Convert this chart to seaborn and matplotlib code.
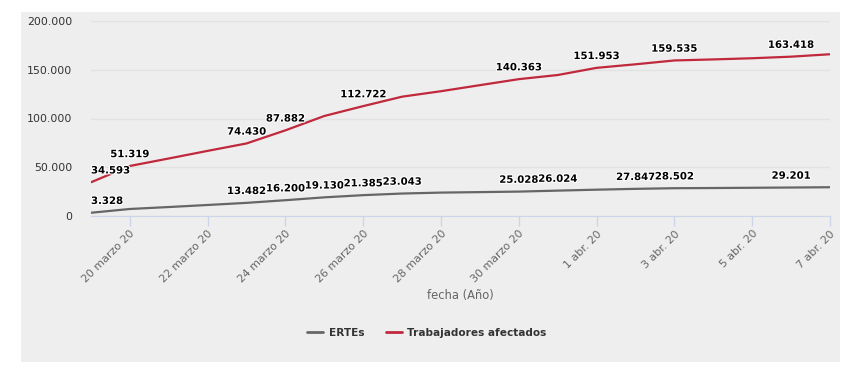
import pandas as pd
import numpy as np
import seaborn as sns
import matplotlib.pyplot as plt
import matplotlib.patheffects as pe
from matplotlib.patches import Rectangle
from matplotlib.lines import Line2D

fechas = pd.date_range("2020-03-19", "2020-04-07", freq="D")

ertes = [3328, 7200, 9200, 11300, 13482, 16200, 19130, 21385, 23043, 24000,
         24500, 25028, 26024, 27000, 27847, 28502, 28700, 28950, 29201, 29500]
trabajadores = [34593, 51319, 59000, 66800, 74430, 87882, 102600, 112722, 122400, 128000,
                134200, 140363, 144600, 151953, 155600, 159535, 160600, 161800, 163418, 165900]

# puntos con etiqueta (indices)
etiq_ertes = [0, 4, 5, 6, 7, 8, 11, 12, 14, 15, 18]
etiq_trab = [0, 1, 4, 5, 7, 11, 13, 15, 18]

xticks_fechas = pd.date_range("2020-03-20", "2020-04-07", freq="2D")
xtick_labels = ["20 marzo 20", "22 marzo 20", "24 marzo 20", "26 marzo 20", "28 marzo 20",
                "30 marzo 20", "1 abr. 20", "3 abr. 20", "5 abr. 20", "7 abr. 20"]
yticks = [0, 50000, 100000, 150000, 200000]
ytick_labels = ["0", "50.000", "100.000", "150.000", "200.000"]

series = ["ERTEs", "Trabajadores afectados"]
colores = {"ERTEs": "#666666", "Trabajadores afectados": "#c0283c"}

df = pd.DataFrame({
    "fecha": list(fechas) * 2,
    "valor": ertes + trabajadores,
    "serie": ["ERTEs"] * len(fechas) + ["Trabajadores afectados"] * len(fechas),
})

sns.set_style("white")
plt.rcParams["font.family"] = ["DejaVu Sans"]

fig = plt.figure(figsize=(8.54, 3.74), dpi=100)
fig.patch.set_facecolor("white")
fig.patches.append(Rectangle((21 / 854, 12 / 374), 819 / 854, 350 / 374,
                             transform=fig.transFigure, facecolor="#eeeeee",
                             edgecolor="none", zorder=-10))

ax = fig.add_axes([91 / 854, 158 / 374, 739 / 854, 195 / 374])
ax.set_facecolor("#eeeeee")

sns.lineplot(data=df, x="fecha", y="valor", hue="serie", palette=colores,
             linewidth=1.6, ax=ax, legend=False)

ax.set_xlim(fechas[0], fechas[-1])
ax.set_ylim(0, 200000)
ax.set_yticks(yticks)
ax.set_yticklabels(ytick_labels)
ax.set_xticks(xticks_fechas)
ax.set_xticklabels(xtick_labels, rotation=45, ha="right", rotation_mode="anchor")

ax.grid(axis="y", color="#e2e2e2", linewidth=1)
ax.grid(axis="x", visible=False)
for s in ["top", "right", "left"]:
    ax.spines[s].set_visible(False)
ax.spines["bottom"].set_color("#ccd6eb")
ax.tick_params(axis="x", bottom=True, colors="#ccd6eb", length=7, width=1, direction="out",
               labelcolor="#666666", labelsize=7.9, pad=2)
ax.tick_params(axis="y", left=False, labelcolor="#333333", labelsize=7.9, pad=10)

ax.set_xlabel("fecha (Año)", color="#666666", fontsize=8.3, labelpad=3)
ax.set_ylabel("")

halo = [pe.withStroke(linewidth=1.6, foreground="white")]
for vals, idx in [(ertes, etiq_ertes), (trabajadores, etiq_trab)]:
    for i in idx:
        txt = f"{vals[i]:,}".replace(",", ".")
        ha = "left" if i == 0 else "center"
        ax.annotate(txt, (fechas[i], vals[i]), xytext=(0, 8.5), textcoords="offset points",
                    ha=ha, va="center", fontsize=7.3, fontweight="bold", color="black",
                    path_effects=halo, annotation_clip=False, zorder=5)

handles = [Line2D([0], [0], color=colores[s], linewidth=2) for s in series]
fig.legend(handles, series, loc="center", bbox_to_anchor=(0.5, 1 - 333 / 374), ncol=2,
           frameon=False, handlelength=1.5, handletextpad=0.55, columnspacing=2.0,
           prop={"weight": "bold", "size": 7.6}, labelcolor="#333333")

plt.savefig("out.png", dpi=100, facecolor="white")
